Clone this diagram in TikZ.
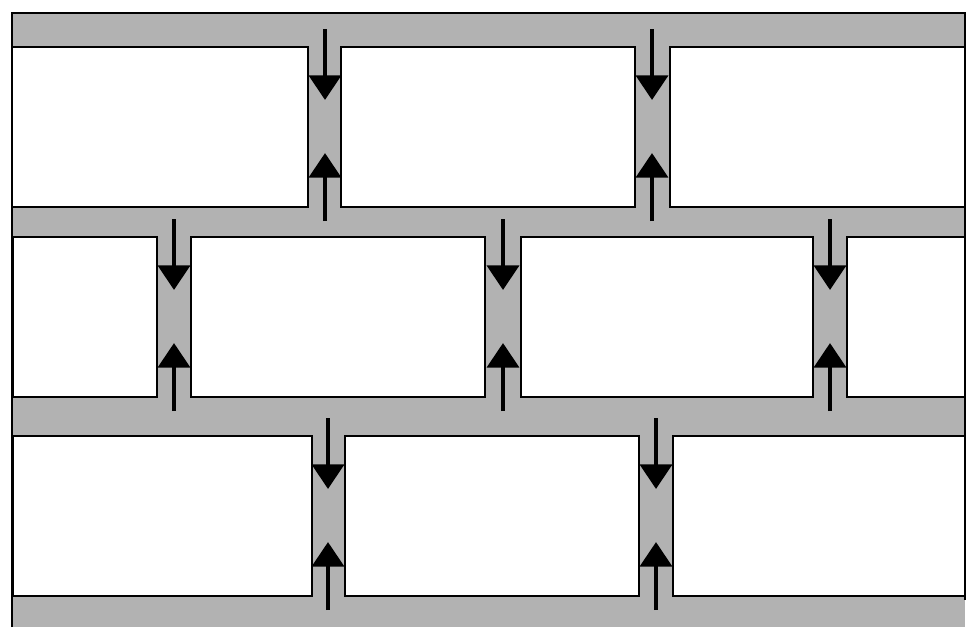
\documentclass[tikz,border=0pt]{standalone}
\usepackage{xcolor}
\usepackage{tikz}
\usetikzlibrary{arrows.meta}
\definecolor{mortargray}{RGB}{178,178,178}
\tikzset{
  brick/.style={rectangle, draw, fill=white, line width=0.9pt, inner sep=0pt, outer sep=0pt, anchor=north west, minimum height=3.2cm},
  mortar/.style={fill=mortargray, draw=none},
  edge/.style={line width=0.9pt},
  push/.style={-{Triangle[length=14pt, width=18pt]}, line width=2.8pt},
}

\begin{document}
\begin{tikzpicture}[x=0.02cm, y=-0.02cm]
  \useasboundingbox (0,0) rectangle (967,627);

  % Mortar bed
  \fill[mortar] (12,13) rectangle (965,627);
  \draw[edge] (12,627) -- (12,13) -- (965,13) -- (965,600);

  % Row 1
  \foreach \l/\r [count=\i] in {12/308, 341/635, 670/965}
    \node[brick, minimum width={(\r-\l)*0.02cm}] (ra\i) at (\l,47) {};

  % Row 2
  \foreach \l/\r [count=\i] in {13/157, 191/485, 521/813, 847/965}
    \node[brick, minimum width={(\r-\l)*0.02cm}] (rb\i) at (\l,237) {};

  % Row 3
  \foreach \l/\r [count=\i] in {13/312, 345/639, 673/965}
    \node[brick, minimum width={(\r-\l)*0.02cm}] (rc\i) at (\l,436) {};

  % Compression arrows in the head joints
  \foreach \x/\y [count=\j] in {325/47, 652/47, 174/237, 503/237, 830/237, 328/436, 656/436} {
    \coordinate (jt\j) at (\x,\y-18);
    \coordinate (jd\j) at (\x,\y+53);
    \coordinate (jb\j) at (\x,\y+174);
    \coordinate (ju\j) at (\x,\y+106);
    \draw[push] (jt\j) -- (jd\j);
    \draw[push] (jb\j) -- (ju\j);
  }

\end{tikzpicture}
\end{document}
